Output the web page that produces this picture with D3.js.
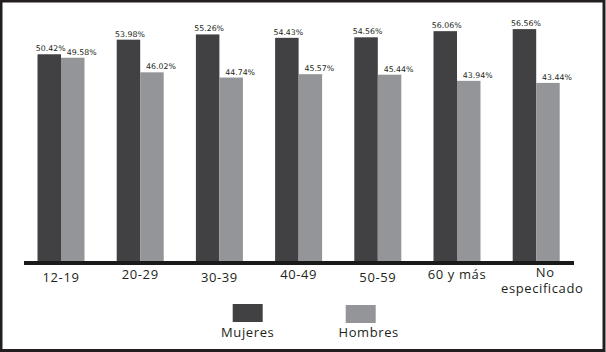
<!DOCTYPE html>
<html lang="es">
<head>
<meta charset="UTF-8">
<title>Mujeres y Hombres por edad</title>
<script src="https://d3js.org/d3.v7.min.js"></script>
<style>
    body { margin: 0; background: #fff; }
    svg { display: block; }
    .value { font-family: "DejaVu Sans", sans-serif; font-size: 7.8px; fill: #231f20; }
    .tick-label, .legend-label { font-family: "Open Sans", sans-serif; font-size: 13px; fill: #231f20; letter-spacing: 0.6px; }
</style>
</head>
<body>
<div id="chart"></div>
<script>
    // data
    const categories = ["12-19", "20-29", "30-39", "40-49", "50-59", "60 y más", "No especificado"];
    const series = ["Mujeres", "Hombres"];
    const mujeres = [50.42, 53.98, 55.26, 54.43, 54.56, 56.06, 56.56];
    const hombres = [49.58, 46.02, 44.74, 45.57, 45.44, 43.94, 43.44];
    const colors = ["#414042", "#939598"];

    const width = 606;
    const height = 352;
    const baseline = 261;

    const svg = d3.select("#chart")
        .append("svg")
        .attr("width", width)
        .attr("height", height);

    // frame
    svg.append("rect")
        .attr("x", 1).attr("y", 1)
        .attr("width", 603).attr("height", 349.5)
        .attr("fill", "none")
        .attr("stroke", "#231f20")
        .attr("stroke-width", 3);

    const x0 = d3.scaleBand()
        .domain(categories)
        .range([21.4, 575.8])
        .padding(0);

    const x1 = d3.scaleBand()
        .domain(series)
        .range([0, x0.bandwidth()])
        .paddingInner(0)
        .paddingOuter(0.685);

    const y = d3.scaleLinear()
        .domain([0, 60])
        .range([baseline, baseline - 60 * 4.1]);

    const rows = categories.map((c, i) => ({ cat: c, values: [mujeres[i], hombres[i]] }));

    const groups = svg.append("g")
        .selectAll("g")
        .data(rows)
        .join("g")
        .attr("transform", d => `translate(${x0(d.cat)},0)`);

    groups.selectAll("rect")
        .data(d => d.values.map((v, j) => ({ key: series[j], v: v, j: j })))
        .join("rect")
        .attr("x", d => x1(d.key))
        .attr("y", d => y(d.v))
        .attr("width", x1.bandwidth())
        .attr("height", d => y(0) - y(d.v))
        .attr("fill", d => colors[d.j]);

    // value labels sit a little to the right of each bar's centre
    groups.selectAll("text.value")
        .data(d => d.values.map((v, j) => ({ key: series[j], v: v, j: j })))
        .join("text")
        .attr("class", "value")
        .attr("x", d => x1(d.key) + x1.bandwidth() / 2 + (d.j === 0 ? 1.5 : 9))
        .attr("y", d => y(d.v) - 3)
        .attr("text-anchor", "middle")
        .text(d => d.v.toFixed(2) + "%");

    // axis line
    svg.append("line")
        .attr("x1", 24).attr("x2", 574)
        .attr("y1", baseline + 2).attr("y2", baseline + 2)
        .attr("stroke", "#1a1a1a")
        .attr("stroke-width", 4);

    // category labels, staggered like the original
    const labels = svg.append("g")
        .selectAll("text")
        .data(categories)
        .join("text")
        .attr("class", "tick-label")
        .attr("text-anchor", "middle")
        .attr("transform", (d, i) => `translate(${x0(d) + x0.bandwidth() / 2},${i % 2 === 0 && i < 6 ? 282 : (i === 6 ? 277 : 278.5)})`);

    labels.each(function (d) {
        const words = d === "No especificado" ? ["No", "especificado"] : [d];
        d3.select(this).selectAll("tspan")
            .data(words)
            .join("tspan")
            .attr("x", (w, k) => words.length > 1 ? (k === 0 ? 9 : 6) : 0)
            .attr("dy", (w, k) => k === 0 ? 0 : 15.5)
            .text(w => w);
    });

    // legend
    const legendX = [247.7, 360.7];
    const legend = svg.append("g")
        .selectAll("g")
        .data(series)
        .join("g")
        .attr("transform", (d, i) => `translate(${legendX[i]},0)`);

    legend.append("rect")
        .attr("x", -15)
        .attr("y", (d, i) => 304 + i)
        .attr("width", 30)
        .attr("height", 18)
        .attr("fill", (d, i) => colors[i]);

    legend.append("text")
        .attr("class", "legend-label")
        .attr("x", (d, i) => i === 0 ? 0 : 8)
        .attr("y", 336.5)
        .attr("text-anchor", "middle")
        .text(d => d);
</script>
</body>
</html>
